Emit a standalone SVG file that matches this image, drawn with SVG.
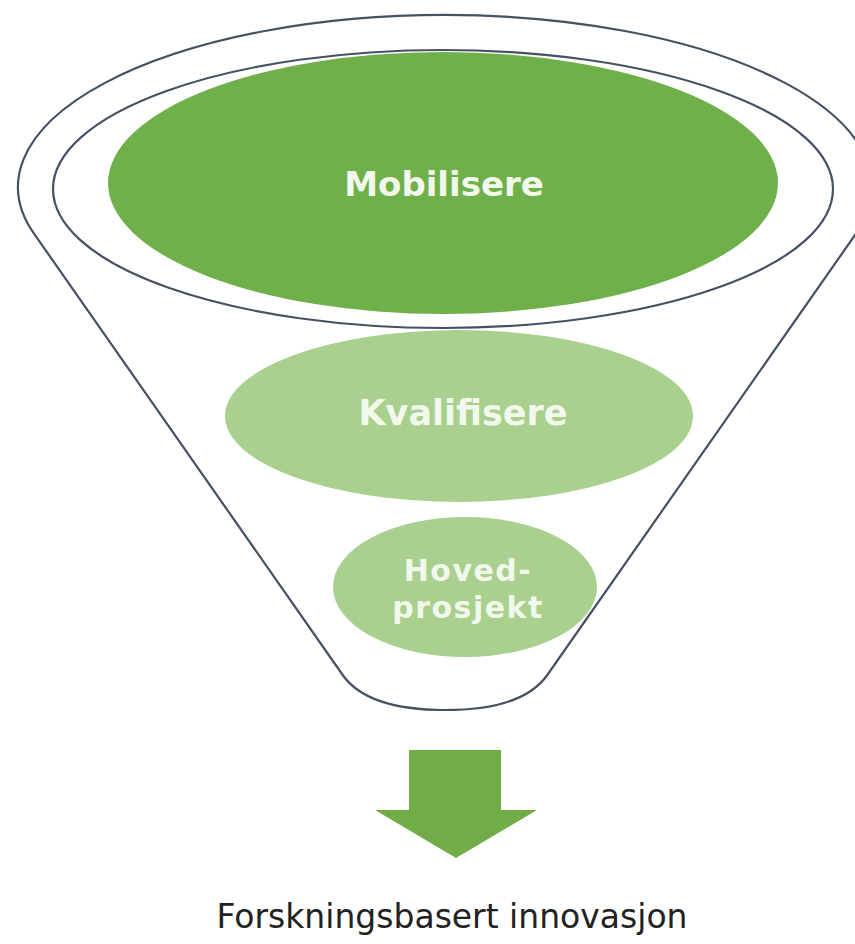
<svg xmlns="http://www.w3.org/2000/svg" width="855" height="944" viewBox="0 0 855 944">
<style>
.line{fill:none;stroke:#465163;stroke-width:2.2}
.lbl{font-family:"DejaVu Sans",Verdana,sans-serif;font-weight:bold;fill:#f2f9ec;text-anchor:middle}
.dark{fill:#70b04b}
.light{fill:#a9d08e}
</style>
<rect width="855" height="944" fill="#ffffff"/>
<g id="funnel">
<path class="line" d="M 34,233.6 L 342.7,675 Q 367.2,710 445,710 Q 522.8,710 547.3,675 L 856,233.6 A 427 172 0 1 0 34,233.6 Z"/>
<ellipse class="line" cx="443" cy="189" rx="390" ry="139"/>
</g>
<g id="mobilisere">
<ellipse class="dark" cx="443" cy="183" rx="335" ry="131"/>
<text class="lbl" x="444" y="196" font-size="34">Mobilisere</text>
</g>
<g id="kvalifisere">
<ellipse class="light" cx="459" cy="416" rx="234" ry="86"/>
<text class="lbl" x="463" y="425" font-size="35">Kvalifisere</text>
</g>
<g id="hovedprosjekt">
<ellipse class="light" cx="465" cy="587" rx="132" ry="70"/>
<text class="lbl" x="468" y="581" font-size="30" letter-spacing="1.5">Hoved-</text>
<text class="lbl" x="468" y="618" font-size="30" letter-spacing="1.5">prosjekt</text>
</g>
<g id="connectors">
<path fill="#70ad47" d="M 409,750 L 501,750 L 501,810 L 537,810 L 456,858 L 375,810 L 409,810 Z"/>
</g>
<g id="result">
<text x="452" y="928" font-family="DejaVu Sans,Verdana,sans-serif" font-size="33" fill="#222222" text-anchor="middle">Forskningsbasert innovasjon</text>
</g>
</svg>
